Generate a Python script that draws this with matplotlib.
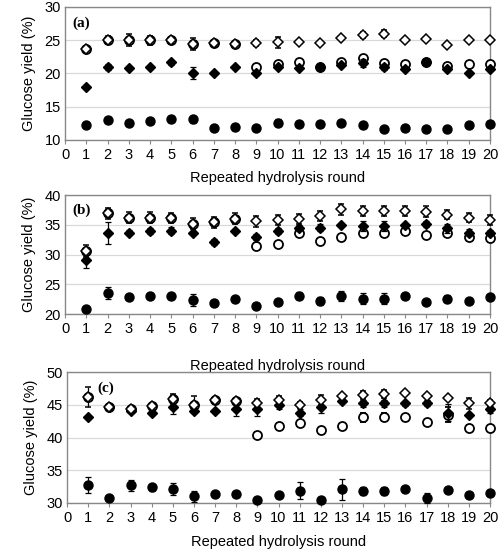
import matplotlib
matplotlib.use("Agg")
import matplotlib.pyplot as plt
import numpy as np

plt.rcParams['font.family'] = ['Liberation Sans', 'DejaVu Sans']

rounds = np.arange(1, 21)

# panel (a)
a_open_dia = [23.7, 25.0, 25.0, 25.0, 25.0, 24.5, 24.6, 24.4, 24.6, 24.7,
              24.7, 24.6, 25.4, 25.8, 26.0, 25.0, 25.2, 24.3, 25.1, 25.1]
a_open_dia_err = [0.2, 0.6, 0.9, 0.7, 0.5, 0.9, 0.4, 0.1, 0.4, 0.8,
                  0.3, 0.1, 0.3, 0.5, 0.5, 0.1, 0.2, 0.1, 0.1, 0.1]
a_fill_dia = [18.0, 21.0, 20.8, 20.9, 21.7, 20.1, 20.1, 21.0, 20.1, 21.0,
              20.8, 21.0, 21.3, 21.6, 21.0, 20.7, 21.7, 20.6, 20.1, 20.7]
a_fill_dia_err = [0.1, 0.5, 0.1, 0.2, 0.4, 0.9, 0.1, 0.1, 0.3, 0.3,
                  0.2, 0.1, 0.2, 0.6, 0.5, 0.2, 0.1, 0.3, 0.1, 0.1]
a_open_cir = [23.7, 25.0, 25.0, 25.0, 25.0, 24.5, 24.6, 24.4, 20.9, 21.4,
              21.7, 21.0, 21.8, 22.3, 21.6, 21.4, 21.7, 21.1, 21.4, 21.5]
a_open_cir_err = [0.1, 0.1, 0.1, 0.1, 0.1, 0.1, 0.1, 0.1, 0.2, 0.3,
                  0.2, 0.1, 0.2, 0.3, 0.3, 0.1, 0.1, 0.3, 0.1, 0.2]
a_fill_cir = [12.3, 13.0, 12.5, 12.8, 13.1, 13.1, 11.8, 12.0, 11.8, 12.6,
              12.4, 12.4, 12.6, 12.2, 11.7, 11.8, 11.7, 11.6, 12.2, 12.4]
a_fill_cir_err = [0.4, 0.1, 0.1, 0.1, 0.1, 0.5, 0.1, 0.1, 0.1, 0.5,
                  0.1, 0.1, 0.1, 0.1, 0.1, 0.1, 0.1, 0.3, 0.1, 0.1]

# panel (b)
b_open_dia = [30.6, 36.9, 36.2, 36.2, 36.1, 35.2, 35.4, 36.0, 35.6, 35.8,
              36.0, 36.5, 37.6, 37.3, 37.3, 37.3, 37.2, 36.7, 36.2, 35.8]
b_open_dia_err = [1.0, 0.9, 0.9, 0.9, 0.8, 0.9, 0.9, 0.9, 0.9, 0.8,
                  0.8, 0.8, 0.9, 0.9, 0.9, 0.8, 0.9, 0.8, 0.8, 0.8]
b_fill_dia = [29.0, 33.6, 33.7, 33.9, 34.0, 33.7, 32.1, 34.0, 33.0, 33.9,
              34.4, 34.5, 35.0, 34.8, 34.8, 34.9, 35.1, 34.4, 33.7, 33.7]
b_fill_dia_err = [1.2, 1.8, 0.5, 0.5, 0.6, 0.3, 0.5, 0.2, 0.5, 0.5,
                  0.5, 0.6, 0.2, 0.9, 0.8, 0.2, 0.5, 0.8, 0.6, 0.4]
b_open_cir = [30.6, 36.9, 36.2, 36.2, 36.1, 35.2, 35.4, 36.0, 31.5, 31.8,
              33.7, 32.3, 32.9, 33.6, 33.6, 33.9, 33.3, 33.7, 32.9, 32.7]
b_open_cir_err = [0.3, 0.2, 0.2, 0.2, 0.2, 0.2, 0.2, 0.2, 0.2, 0.2,
                  0.3, 0.2, 0.2, 0.6, 0.7, 0.2, 0.2, 0.4, 0.7, 0.2]
b_fill_cir = [20.9, 23.5, 22.9, 23.1, 23.0, 22.3, 21.8, 22.5, 21.3, 22.1,
              23.1, 22.2, 23.0, 22.6, 22.6, 23.0, 22.1, 22.6, 22.2, 22.8]
b_fill_cir_err = [0.1, 1.0, 0.4, 0.5, 0.4, 1.0, 0.1, 0.1, 0.1, 0.1,
                  0.6, 0.6, 0.8, 0.9, 0.9, 0.1, 0.1, 0.6, 0.1, 0.1]

# panel (c)
c_open_dia = [46.2, 44.6, 44.4, 44.8, 45.9, 45.0, 45.7, 45.6, 45.3, 45.7,
              45.0, 45.7, 46.4, 46.5, 46.6, 46.8, 46.3, 46.1, 45.2, 45.2]
c_open_dia_err = [1.5, 0.2, 0.2, 0.1, 0.8, 1.3, 0.4, 0.5, 0.6, 0.7,
                  0.5, 0.8, 0.3, 0.6, 0.6, 0.1, 0.2, 0.1, 0.8, 0.6]
c_fill_dia = [43.1, 44.6, 44.1, 43.8, 44.6, 44.0, 44.0, 44.3, 44.3, 44.9,
              43.8, 44.7, 45.6, 45.2, 45.2, 45.2, 45.3, 43.8, 43.5, 44.3]
c_fill_dia_err = [0.1, 0.1, 0.1, 0.3, 1.0, 0.2, 0.1, 1.0, 1.0, 0.5,
                  0.5, 1.0, 0.2, 0.6, 0.6, 0.4, 0.5, 1.3, 0.1, 0.5]
c_open_cir = [46.2, 44.6, 44.4, 44.8, 45.9, 45.0, 45.7, 45.6, 40.4, 41.8,
              42.2, 41.2, 41.7, 43.1, 43.1, 43.1, 42.4, 43.5, 41.5, 41.5]
c_open_cir_err = [0.2, 0.2, 0.2, 0.1, 0.2, 0.2, 0.2, 0.2, 0.4, 0.3,
                  0.1, 0.3, 0.4, 0.7, 0.6, 0.3, 0.1, 1.2, 0.4, 0.1]
c_fill_cir = [32.8, 30.7, 32.7, 32.4, 32.1, 31.0, 31.3, 31.3, 30.4, 31.2,
              31.9, 30.4, 32.1, 31.8, 31.8, 32.2, 30.8, 32.0, 31.2, 31.5]
c_fill_cir_err = [1.2, 0.1, 0.8, 0.5, 0.9, 0.8, 0.1, 0.1, 0.1, 0.1,
                  1.3, 0.1, 1.6, 0.6, 0.6, 0.4, 0.8, 0.3, 0.3, 0.1]

panels = [
    ("(a)", (10, 30), [10, 15, 20, 25, 30],
     a_open_cir, a_open_cir_err, a_fill_cir, a_fill_cir_err,
     a_fill_dia, a_fill_dia_err, a_open_dia, a_open_dia_err),
    ("(b)", (20, 40), [20, 25, 30, 35, 40],
     b_open_cir, b_open_cir_err, b_fill_cir, b_fill_cir_err,
     b_fill_dia, b_fill_dia_err, b_open_dia, b_open_dia_err),
    ("(c)", (30, 50), [30, 35, 40, 45, 50],
     c_open_cir, c_open_cir_err, c_fill_cir, c_fill_cir_err,
     c_fill_dia, c_fill_dia_err, c_open_dia, c_open_dia_err),
]

# axes boxes in figure fractions [left, bottom, width, height]
boxes = [[0.130, 0.7455, 0.848, 0.2418],
         [0.130, 0.4290, 0.848, 0.2164],
         [0.134, 0.0855, 0.844, 0.2380]]
label_x = [0.016, 0.016, 0.071]
xlabel_pad = [6, 16, 7]

fig = plt.figure(figsize=(5.01, 5.5), dpi=100)

for i, (box, p) in enumerate(zip(boxes, panels)):
    label, ylim, yt, oc, oce, fc, fce, fd, fde, od, ode = p
    ax = fig.add_axes(box)
    ax.set_xlim(0, 20)
    ax.set_ylim(*ylim)
    ax.set_yticks(yt)
    ax.set_xticks(np.arange(0, 21))
    ax.yaxis.grid(True, color='#d9d9d9', linewidth=0.9)
    ax.set_axisbelow(True)
    for s in ax.spines.values():
        s.set_color('#888888')
        s.set_linewidth(1.0)
    ax.tick_params(axis='both', labelsize=10.5, color='#888888', length=3,
                   direction='out', pad=3)
    ax.tick_params(axis='y', length=0)

    kw = dict(ls='none', ecolor='black', elinewidth=0.9, capsize=2.5,
              capthick=0.9, clip_on=False)
    ax.errorbar(rounds, oc, yerr=oce, fmt='o', ms=6.5, mfc='white',
                mec='black', mew=1.3, zorder=3, **kw)
    ax.errorbar(rounds, fc, yerr=fce, fmt='o', ms=6.5, mfc='black',
                mec='black', zorder=3, **kw)
    ax.errorbar(rounds, fd, yerr=fde, fmt='D', ms=4.8, mfc='black',
                mec='black', zorder=4, **kw)
    ax.errorbar(rounds, od, yerr=ode, fmt='D', ms=4.8, mfc='white',
                mec='black', mew=1.1, zorder=5, **kw)

    ax.text(label_x[i], 0.93, label, transform=ax.transAxes, fontsize=11,
            fontweight='bold', family='Liberation Serif', va='top', ha='left')
    ax.set_xlabel("Repeated hydrolysis round", fontsize=10.5,
                  labelpad=xlabel_pad[i])
    ax.set_ylabel("Glucose yield (%)", fontsize=10.5, labelpad=6)

fig.savefig("out.png", dpi=100)
